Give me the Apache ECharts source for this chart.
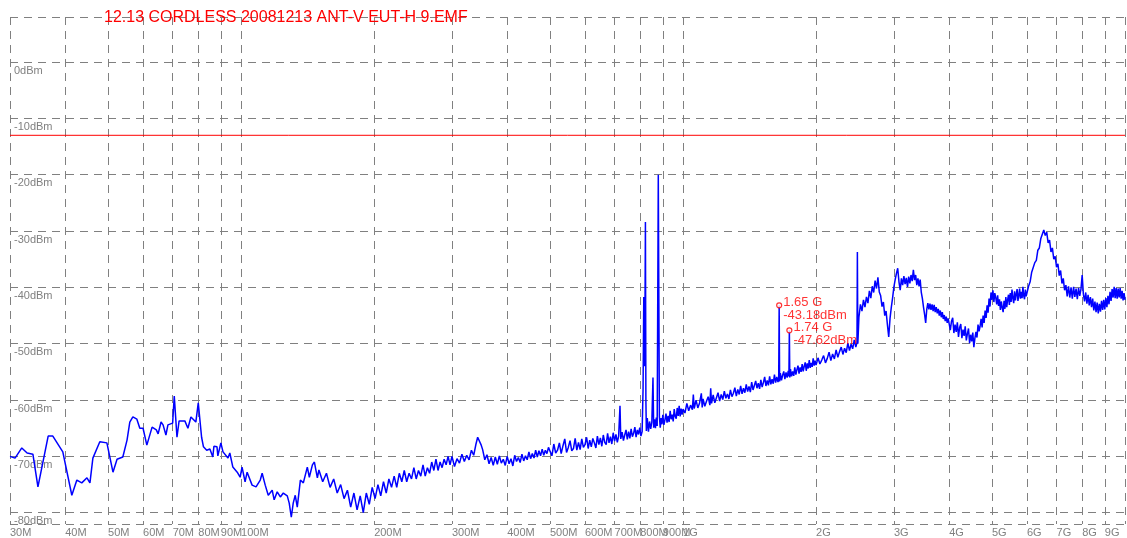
<!DOCTYPE html>
<html>
<head>
<meta charset="utf-8">
<script src="https://cdn.jsdelivr.net/npm/echarts@6/dist/echarts.min.js"></script>
<style>
html,body{margin:0;padding:0;background:#fff;}
#chart{width:1127px;height:538px;}
</style>
</head>
<body>
<div id="chart"></div>
<script>
// ---------- DATA ----------
const titleText = '12.13 CORDLESS 20081213 ANT-V EUT-H 9.EMF';

// Frequency ticks (MHz) for the log axis grid & labels
const xTickMHz = [30,40,50,60,70,80,90,100,200,300,400,500,600,700,800,900,1000,2000,3000,4000,5000,6000,7000,8000,9000,10000];
const xLabelMHz = [30,40,50,60,70,80,90,100,200,300,400,500,600,700,800,900,1000,2000,3000,4000,5000,6000,7000,8000,9000];
// Level ticks (dBm)
const yTickDbm = [8,0,-10,-20,-30,-40,-50,-60,-70,-80,-82];
const yLabelDbm = [0,-10,-20,-30,-40,-50,-60,-70,-80];
const yMin = -82, yMax = 8;
const limitDbm = -13;

// Markers
const markerFreqMHz = [1650, 1740];
const markerLevelDbm = [-43.18, -47.62];

// Trace, 30 - 150 MHz
const freqA = [30,30.8,31.9,32.8,33.8,34.7,36.6,37.5,39.5,41.4,42.5,43.6,44.8,45.5,46.2,47.9,49.7,51.3,52.4,52.9,54.0,55.2,56.0,56.9,58.1,59.0,60.0,61.2,61.8,62.9,64.3,64.9,65.9,66.6,67.6,68.3,70.0,70.6,71.6,72.4,74.6,75.8,77.0,77.8,79.0,80.0,81.4,82.2,83.6,85.0,86.3,86.8,88.2,88.6,90.0,91.0,91.9,93.4,94.3,95.8,98.0,99.5,100.5,102.1,103.2,105.9,108.1,110.5,111.6,113.4,115.2,117.6,118.8,120.7,122.7,124.6,127.2,128.5,129.9,131.2,132.6,134.0,136.2,138.3,141.2,142.7,145.0,146.5,148.8];
const levelA = [-70.0,-70.3,-68.5,-69.4,-69.6,-75.4,-66.4,-66.4,-69.2,-76.9,-74.2,-74.7,-73.8,-74.7,-70.3,-67.4,-67.6,-72.8,-70.5,-70.8,-70.1,-67.1,-63.9,-63.0,-63.4,-65.0,-65.0,-68.0,-68.2,-64.8,-65.3,-66.0,-63.9,-64.4,-66.2,-64.4,-64.1,-59.3,-66.6,-63.7,-63.7,-65.0,-63.0,-62.7,-63.9,-60.5,-66.6,-68.3,-68.9,-68.7,-70.1,-68.2,-68.3,-69.9,-67.6,-69.2,-68.9,-70.3,-69.4,-71.9,-72.8,-73.7,-71.9,-74.5,-72.8,-75.1,-75.4,-74.2,-73.0,-75.1,-76.9,-76.0,-77.7,-76.3,-77.2,-76.5,-77.0,-78.3,-80.8,-78.3,-76.9,-79.0,-74.2,-74.7,-71.9,-73.7,-71.5,-71.0,-73.8];

// Trace, 150 - 300 MHz
const freqB = [150,153,156,159,162,165,168,171,174,177,180,183,186,189,192,195,198,201,204,207,210,213,216,219,222,225,228,231,234,237,240,243,246,249,252,255,258,261,264,267,270,273,276,279,282,285,288,291,294,297];
const levelB = [-72.4,-74.5,-73.0,-75.5,-74.0,-76.5,-75.0,-77.5,-76.0,-79.0,-76.5,-79.5,-77.0,-80.0,-76.5,-78.5,-75.5,-77.5,-75.0,-77.0,-74.5,-76.5,-74.0,-75.5,-73.5,-75.5,-73.0,-74.5,-72.5,-74.5,-73.0,-74.0,-72.0,-74.0,-72.5,-73.5,-71.5,-73.5,-72.0,-73.0,-71.0,-72.5,-70.5,-72.5,-71.0,-72.0,-70.5,-71.5,-70.0,-71.5];

// Trace, 300 - 500 MHz
const freqC = [300,304,308,312,316,320,324,328,332,336,340,343,346,349,352,356,360,364,368,372,376,380,384,388,392,396,400,404,408,412,416,420,424,428,432,436,440,444,448,452,456,460,464,468,472,476,480,484,488,492,496];
const levelC = [-70.0,-71.8,-70.4,-71.2,-69.6,-70.9,-69.8,-70.6,-68.9,-69.8,-67.8,-66.6,-66.9,-67.9,-68.8,-70.6,-69.7,-71.3,-70.2,-71.6,-70.1,-71.4,-69.9,-71.2,-70.5,-71.6,-70.0,-71.3,-70.4,-71.7,-69.8,-70.9,-70.2,-71.1,-69.6,-70.8,-69.9,-70.6,-69.2,-70.4,-69.5,-70.3,-68.9,-70.1,-69.0,-69.9,-68.7,-69.8,-68.9,-69.5,-68.4];

// Trace, 500 MHz - 1 GHz
const freqD = [500,505,510,515,520,525,530,535,540,545,550,555,560,565,570,575,580,585,590,595,600,605,610,615,620,625,630,635,640,645,650,655,660,665,670,675,680,685,690,695,700,705,710,715,720,723,728,733,738,743,748,753,758,763,768,773,778,783,788,793,798,803,808,812,815,817,819,822,824,826,830,835,840,845,850,855,858,862,866,870,874,879,884,888,892,896,900,905,910,915,920,925,930,935,940,945,950,955,960,965,970,975,980,985,990,995];
const levelD = [-68.2,-69.9,-67.8,-69.4,-68.9,-67.6,-69.5,-68.1,-66.9,-69.3,-68.4,-67.2,-69.0,-68.6,-66.8,-68.9,-67.5,-68.8,-66.9,-68.4,-67.9,-66.6,-68.6,-67.1,-68.3,-66.8,-67.6,-68.5,-66.4,-67.9,-66.7,-68.2,-66.2,-67.5,-67.9,-65.9,-67.6,-66.5,-67.8,-65.8,-67.3,-66.1,-67.5,-66.4,-61.0,-66.9,-65.7,-67.2,-66.2,-65.3,-67.0,-65.6,-66.8,-65.1,-66.5,-65.9,-64.8,-66.6,-65.3,-66.1,-64.9,-66.4,-65.6,-58.0,-41.7,-42.0,-54.0,-28.4,-60.0,-65.5,-63.2,-65.6,-63.8,-65.1,-63.9,-56.0,-64.9,-63.4,-65.0,-63.1,-64.6,-20.0,-62.9,-64.9,-63.2,-64.3,-62.6,-64.4,-63.5,-62.4,-64.0,-62.8,-63.9,-61.9,-63.4,-62.6,-63.8,-61.6,-62.9,-63.3,-61.4,-62.8,-61.0,-62.9,-61.5,-62.6];

// Trace, 1 - 2 GHz
const freqE = [1000,1010,1020,1030,1040,1050,1055,1060,1070,1080,1090,1100,1105,1110,1120,1130,1140,1150,1155,1160,1170,1180,1190,1200,1210,1220,1230,1240,1250,1260,1270,1280,1290,1300,1310,1320,1330,1340,1350,1360,1370,1380,1390,1400,1410,1420,1430,1440,1450,1460,1470,1480,1490,1500,1510,1520,1530,1540,1550,1560,1570,1580,1590,1600,1610,1620,1630,1640,1646,1650,1654,1660,1670,1680,1690,1700,1710,1720,1730,1736,1740,1744,1750,1760,1770,1780,1790,1800,1810,1820,1830,1840,1850,1860,1870,1880,1890,1900,1910,1920,1930,1940,1950,1960,1970,1980,1990];
const levelE = [-61.6,-62.3,-60.6,-61.9,-60.9,-61.7,-59.0,-61.5,-60.0,-61.4,-60.5,-58.8,-61.3,-59.8,-61.1,-60.2,-59.4,-60.9,-57.9,-60.6,-59.1,-60.5,-59.6,-58.7,-60.2,-59.0,-59.9,-58.4,-59.7,-58.9,-59.8,-58.2,-59.4,-58.8,-57.8,-59.3,-58.1,-59.0,-57.5,-58.9,-57.9,-58.7,-57.2,-58.5,-57.6,-58.6,-56.8,-58.2,-57.4,-56.6,-57.9,-57.0,-58.0,-56.4,-57.7,-56.9,-55.9,-57.5,-56.5,-57.4,-55.8,-57.2,-56.3,-57.1,-55.5,-56.9,-55.9,-56.8,-56.2,-43.18,-56.7,-55.2,-56.5,-55.6,-54.9,-56.3,-55.1,-56.0,-54.8,-55.8,-47.62,-56.0,-54.5,-55.8,-54.9,-55.7,-54.2,-55.5,-54.6,-53.9,-55.3,-54.2,-55.0,-53.6,-54.9,-54.0,-53.3,-54.8,-53.5,-54.4,-52.9,-54.3,-53.4,-54.1,-52.6,-53.9,-53.0];

// Trace, 2 - 4 GHz
const freqF = [2000,2020,2040,2060,2080,2100,2120,2140,2160,2180,2200,2220,2240,2260,2280,2300,2320,2340,2360,2380,2400,2420,2440,2460,2475,2480,2486,2495,
2500,2520,2540,2560,2580,2600,2620,2640,2660,2680,2700,2720,2740,2760,2780,2800,2820,2840,2860,2880,2900,2920,2940,2960,2980,3000,3020,3040,3060,3080,3100,3120,3140,3160,3180,3200,3220,3240,3260,3280,3300,3320,3340,3360,3380,3400,3420,3440,3460,3480,3500,3520,3540,3560,3580,3600,3620,3640,3660,3680,3700,3720,3740,3760,3780,3800,3820,3840,3860,3880,3900,3920,3940,3960,3980];
const levelF = [-53.8,-52.5,-53.6,-52.9,-52.1,-53.4,-52.6,-51.5,-53.0,-51.8,-52.7,-51.1,-52.4,-51.4,-50.6,-51.9,-50.8,-51.6,-49.9,-51.2,-50.1,-50.9,-49.3,-50.6,-49.8,-33.7,-50.0,-47.0,
-45.3,-43.0,-44.2,-42.2,-43.5,-41.7,-42.8,-40.6,-41.9,-39.8,-40.9,-38.8,-40.2,-38.2,-40.8,-41.5,-43.4,-42.6,-45.0,-44.2,-46.6,-48.8,-45.5,-43.5,-41.8,-39.9,-38.6,-37.5,-36.6,-39.0,-40.5,-38.4,-39.6,-38.0,-39.4,-38.3,-39.9,-38.1,-39.3,-37.8,-38.9,-36.9,-38.7,-37.8,-39.6,-38.4,-39.8,-38.6,-40.9,-42.0,-43.5,-44.8,-46.3,-43.9,-42.8,-43.9,-42.9,-44.0,-43.0,-44.2,-43.1,-44.4,-43.5,-44.6,-43.8,-45.0,-44.1,-45.3,-44.4,-45.6,-44.9,-46.0,-45.2,-46.3,-45.5];

// Trace, 4 - 6 GHz
const freqG = [4000,4025,4050,4075,4100,4125,4150,4175,4200,4225,4250,4275,4300,4325,4350,4375,4400,4425,4450,4475,4500,4525,4550,4575,4600,4625,4650,4675,4700,4725,4750,4775,4800,4825,4850,4875,4900,4925,4950,4975,5000,5025,5050,5075,5100,5125,5150,5175,5200,5225,5250,5275,5300,5325,5350,5375,5400,5425,5450,5475,5500,5525,5550,5575,5600,5625,5650,5675,5700,5725,5750,5775,5800,5825,5850,5875,5900,5925,5950,5975];
const levelG = [-45.2,-47.6,-46.0,-45.4,-48.1,-46.6,-47.9,-46.2,-48.8,-47.1,-46.5,-49.0,-47.5,-48.6,-46.9,-49.4,-48.2,-47.3,-49.9,-48.4,-49.6,-48.0,-50.6,-49.0,-47.9,-48.9,-46.6,-47.8,-46.9,-45.6,-47.1,-45.0,-46.3,-44.1,-45.4,-43.2,-44.5,-42.0,-43.4,-40.9,-42.2,-40.5,-42.6,-41.0,-41.8,-43.0,-41.4,-43.3,-42.1,-44.0,-42.5,-43.6,-44.4,-42.4,-43.8,-41.7,-43.5,-42.2,-41.3,-43.1,-41.0,-42.6,-40.4,-41.9,-42.8,-40.7,-42.3,-41.2,-40.3,-42.4,-41.4,-40.2,-42.0,-40.8,-41.9,-39.9,-41.5,-42.1,-40.4,-41.6];

// Trace, 6 - 10 GHz
const freqH = [6000,6050,6100,6150,6200,6250,6300,6350,6400,6450,6500,6550,6600,6650,6700,6750,6800,6850,6900,6950,7000,7050,7100,7150,7200,7250,7300,7350,7400,7450,7500,7550,7600,7650,7700,7750,7800,7850,7900,7950,8000,8050,8100,8150,8200,8250,8300,8350,8400,8450,8500,8550,8600,8650,8700,8750,8800,8850,8900,8950,9000,9050,9100,9150,9200,9250,9300,9350,9400,9450,9500,9550,9600,9650,9700,9750,9800,9850,9900,9950,10000];
const levelH = [-41.3,-39.8,-39.0,-37.3,-37.0,-35.6,-35.2,-33.4,-33.0,-31.3,-31.0,-29.8,-30.8,-30.2,-32.1,-31.6,-33.7,-33.0,-35.0,-34.5,-36.4,-35.8,-37.9,-37.0,-39.3,-38.4,-40.5,-39.6,-41.6,-39.8,-41.8,-40.0,-42.0,-39.9,-41.7,-40.2,-42.1,-40.1,-41.5,-40.3,-37.8,-41.2,-42.5,-40.9,-42.9,-41.3,-43.2,-41.7,-43.5,-42.0,-44.1,-42.5,-44.4,-42.7,-44.6,-42.9,-44.3,-42.4,-44.0,-42.2,-43.9,-41.9,-43.5,-41.5,-43.0,-40.8,-42.4,-40.3,-41.8,-39.9,-41.9,-40.1,-42.0,-40.2,-41.8,-40.1,-42.0,-40.6,-42.3,-41.0,-42.2];

// ---------- CHART ----------
const freqAll = freqA.concat(freqB, freqC, freqD, freqE, freqF, freqG, freqH);
const levelAll = levelA.concat(levelB, levelC, levelD, levelE, levelF, levelG, levelH);
const traceData = freqAll.map((f, i) => [f, levelAll[i]]);
const markerData = markerFreqMHz.map((f, i) => [f, markerLevelDbm[i]]);
const limitData = [[xTickMHz[0], limitDbm], [xTickMHz[xTickMHz.length - 1], limitDbm]];

const gridColor = '#808080';
const labelColor = '#808080';
const fontFam = '"Liberation Sans", Arial, sans-serif';

const chart = echarts.init(document.getElementById('chart'), null, {renderer: 'canvas'});
chart.setOption({
  animation: false,
  backgroundColor: '#ffffff',
  title: {
    text: titleText,
    left: 104, top: 10, padding: 0,
    textStyle: {color: '#ff0000', fontSize: 16, fontWeight: 'normal', fontFamily: fontFam}
  },
  grid: {left: 10, right: 2, top: 17, bottom: 14, containLabel: false},
  xAxis: {
    type: 'log', logBase: 10, min: 30, max: 10000,
    axisLine: {show: false},
    axisTick: {show: false, customValues: xTickMHz},
    splitLine: {show: true, lineStyle: {color: gridColor, type: [8, 6], width: 1}},
    minorSplitLine: {show: false},
    axisLabel: {
      customValues: xLabelMHz, interval: 0, margin: 3, align: 'left',
      color: labelColor, fontSize: 11, fontFamily: fontFam,
      formatter: v => v >= 1000 ? (v / 1000) + 'G' : v + 'M'
    }
  },
  yAxis: {
    type: 'value', min: yMin, max: yMax,
    axisLine: {show: false},
    axisTick: {show: false, customValues: yTickDbm},
    splitLine: {show: true, lineStyle: {color: gridColor, type: [8, 6], width: 1}},
    axisLabel: {
      customValues: yLabelDbm, inside: true, margin: 4, align: 'left', verticalAlign: 'top',
      padding: [3, 0, 0, 0],
      color: labelColor, fontSize: 11, fontFamily: fontFam,
      formatter: v => v + 'dBm'
    }
  },
  series: [
    {
      type: 'line', data: limitData, showSymbol: false, symbol: 'none', silent: true, z: 2,
      lineStyle: {color: '#ff0000', width: 1, type: 'solid'}, itemStyle: {color: '#ff0000'}
    },
    {
      type: 'line', data: traceData, showSymbol: false, symbol: 'none',
      lineStyle: {color: '#0000ff', width: 1.5}, itemStyle: {color: '#0000ff'},
      silent: true, z: 3
    },
    {
      type: 'scatter', data: markerData, symbol: 'circle', symbolSize: 5, z: 5, silent: true,
      itemStyle: {color: '#ffffff', borderColor: '#ff0000', borderWidth: 1.2},
      label: {
        show: true, position: 'right', distance: 1, offset: [0, 4],
        color: '#ff0000', fontSize: 13, lineHeight: 13, fontFamily: fontFam,
        formatter: p => (p.value[0] / 1000).toFixed(2) + ' G\n' + p.value[1].toFixed(2) + 'dBm'
      }
    }
  ]
});
</script>
</body>
</html>
